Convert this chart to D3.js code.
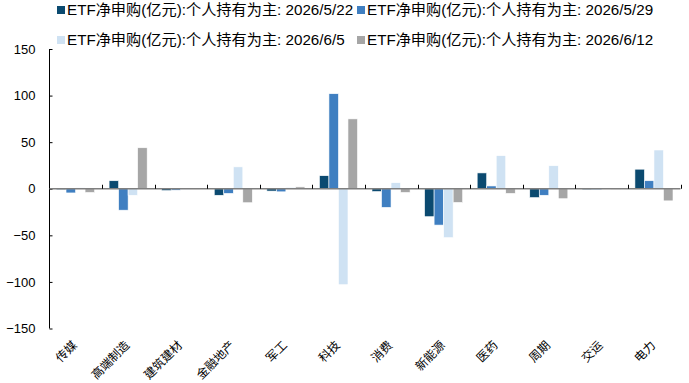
<!DOCTYPE html>
<html><head><meta charset="utf-8">
<script src="https://cdn.jsdelivr.net/npm/d3@7"></script>
<style>
html,body{margin:0;padding:0;background:#fff;}
svg{display:block;}
text{font-family:"Liberation Sans","Noto Sans CJK SC",sans-serif;fill:#000;}
</style></head>
<body>
<script>
const categories = ["传媒","高端制造","建筑建材","金融地产","军工","科技","消费","新能源","医药","周期","交运","电力"];
const seriesNames = [
  "ETF净申购(亿元):个人持有为主: 2026/5/22",
  "ETF净申购(亿元):个人持有为主: 2026/5/29",
  "ETF净申购(亿元):个人持有为主: 2026/6/5",
  "ETF净申购(亿元):个人持有为主: 2026/6/12"
];
const s0522 = [-1, 8.6, -2, -7, -2.5, 14, -3, -30, 17, -9.5, -1, 21];
const s0529 = [-4.5, -23, -1.5, -5, -3.3, 102, -20, -39, 3, -7, -1, 8.6];
const s0605 = [1, -7, -1, 23.5, 1.5, -103, 6.5, -52.5, 35.5, 24.7, 0.5, 41.6];
const s0612 = [-4, 44, -0.5, -15, 2, 75, -4, -14.7, -5, -10.7, -0.5, -13];
const seriesValues = [s0522, s0529, s0605, s0612];
const yTicks = [-150, -100, -50, 0, 50, 100, 150];
const colors = ["#0b4a70", "#3f7fc1", "#cfe2f3", "#a6a6a6"];

const W = 689, H = 383;
const svg = d3.select("body").append("svg").attr("width", W).attr("height", H);

const x = d3.scaleBand().domain(categories).range([49.5, 680.5]).padding(0);
const bw = x.bandwidth();
const x1 = d3.scaleBand().domain(d3.range(4)).range([7, bw - 7.5]).padding(0);
const y = d3.scaleLinear().domain([-150, 150]).range([328.5, 49]);

// bars
seriesValues.forEach((vals, si) => {
  svg.append("g").selectAll("rect").data(vals).enter().append("rect")
    .attr("x", (d, i) => x(categories[i]) + x1(si))
    .attr("width", x1.bandwidth())
    .attr("y", d => y(Math.max(0, d)))
    .attr("height", d => Math.abs(y(d) - y(0)))
    .attr("fill", colors[si])
    .attr("stroke", "#fff").attr("stroke-width", 0.6);
});

// y axis
const yAxis = d3.axisLeft(y).tickValues(yTicks).tickSize(-3).tickPadding(14).tickFormat(d3.format("d"));
const gy = svg.append("g").attr("transform", "translate(49.5,0)").call(yAxis);
gy.select(".domain").attr("stroke", "#000").attr("d", `M-0,${y(150)}H0V${y(-150)}H-0`);
gy.selectAll(".tick line").attr("stroke", "#000");
gy.selectAll(".tick text").style("font-size", "13px").attr("fill", "#000");

// zero axis with category boundary ticks
const gx = svg.append("g").attr("transform", `translate(0,${y(0)})`);
gx.append("line").attr("x1", 49.5).attr("x2", 680.5).attr("y1", 0).attr("y2", 0)
  .attr("stroke", "#7f7f7f").attr("stroke-width", 1.5);
gx.selectAll("line.b").data(categories).enter().append("line")
  .attr("x1", (d, i) => Math.round(x(d) + bw) + 0.5)
  .attr("x2", (d, i) => Math.round(x(d) + bw) + 0.5)
  .attr("y1", -4).attr("y2", 0).attr("stroke", "#000");

// category labels
svg.append("g").selectAll("text").data(categories).enter().append("text")
  .attr("transform", d => `translate(${x(d) + bw / 2 - 1},${343}) rotate(-45)`)
  .attr("text-anchor", "end")
  .attr("dy", "0.35em")
  .style("font-size", "12px")
  .text(d => d);

// legend
const legPos = [[57, 10], [357, 10], [57, 40], [357, 40]];
seriesNames.forEach((n, i) => {
  const g = svg.append("g").attr("transform", `translate(${legPos[i][0]},${legPos[i][1]})`);
  g.append("rect").attr("x", 0).attr("y", -4).attr("width", 8).attr("height", 8).attr("fill", colors[i]);
  g.append("text").attr("x", 10).attr("y", 0).attr("dy", "0.35em").style("font-size", "15.2px").text(n);
});
</script>
</body></html>
